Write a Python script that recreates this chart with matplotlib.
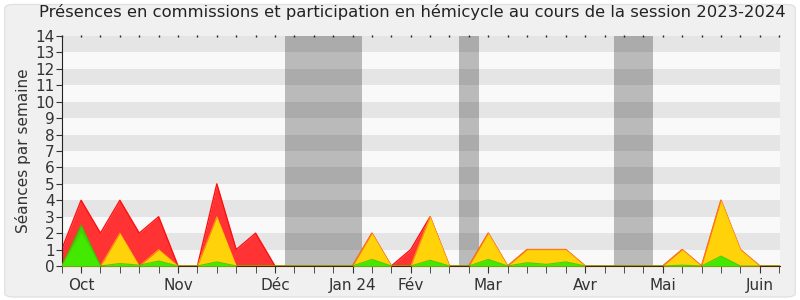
import matplotlib
matplotlib.use("Agg")
import matplotlib.pyplot as plt
from matplotlib.patches import FancyBboxPatch
import numpy as np

weeks = list(range(38))
hemicycle = [1,4,2,4,2,3,0,0,5,1,2,0,0,0,0,0,2,0,1,3,0,0,2,0,1,1,1,0,0,0,0,0,1,0,4,1,0,0]
commission = [0,2,0,2,0,1,0,0,3,0,0,0,0,0,0,0,2,0,0,3,0,0,2,0,1,1,1,0,0,0,0,0,1,0,4,1,0,0]
participation = [0,2.5,0,0.15,0.05,0.3,0,0,0.25,0,0,0,0,0,0,0,0.4,0,0,0.35,0,0,0.4,0,0.2,0.1,0.25,0,0,0,0,0,0.05,0,0.6,0,0,0]
vacations = [(11.5, 15.5), (20.5, 21.5), (28.5, 30.5)]
month_pos = [1, 6, 11, 15, 18, 22, 27, 31, 36]
month_labels = ["Oct", "Nov", "Déc", "Jan 24", "Fév", "Mar", "Avr", "Mai", "Juin"]
ymax = 14

fig = plt.figure(figsize=(8, 3), dpi=100, facecolor="white")
bg = FancyBboxPatch((0.006, 0.01), 0.988, 0.975, boxstyle="round,pad=0,rounding_size=0.012",
                    transform=fig.transFigure, facecolor="#F0F0F0", edgecolor="#E2E2E2",
                    linewidth=1, zorder=-10)
fig.patches.append(bg)

ax = fig.add_axes([61.7/800, 34/300, (779.5-61.7)/800, 230/300])
ax.set_facecolor("#F9F9F9")
for k in range(ymax):
    if k % 2 == 1:
        ax.axhspan(k, k+1, color="#E5E5E5", lw=0, zorder=0)
for a, b in vacations:
    ax.axvspan(a, b, color="black", alpha=0.25, lw=0, zorder=1)

x = np.array(weeks)
ax.fill_between(x, 0, hemicycle, color="#FF3333", lw=0, zorder=2)
ax.plot(x, hemicycle, color="#FF1010", lw=1.0, zorder=2.1)
ax.fill_between(x, 0, commission, color="#FFD20A", lw=0, zorder=3)
ax.plot(x, commission, color="#FFC800", lw=0.8, alpha=0.6, zorder=3.1)
ax.fill_between(x, 0, participation, color="#22EE00", alpha=0.85, lw=0, zorder=4)
ax.plot(x, participation, color="#22CC00", lw=0.8, alpha=0.8, zorder=4.1)

ax.set_xlim(0, 37.02)
ax.set_ylim(0, ymax)
ax.set_yticks(range(0, ymax+1))
ax.tick_params(axis="y", labelsize=11, length=4, colors="#333333", pad=1)
ax.set_xticks(month_pos)
ax.set_xticklabels(month_labels)
ax.set_xticks(weeks, minor=True)
ax.tick_params(axis="x", which="both", labelsize=11, length=5, colors="#333333",
               direction="out", top=False)
ax.secondary_xaxis("top").set_visible(False)
for w in weeks:
    ax.plot([w], [ymax], marker="|", markersize=2, color="#222222", clip_on=False,
            zorder=6, markeredgewidth=1)
for sp in ["top", "right"]:
    ax.spines[sp].set_visible(False)
ax.spines["left"].set_color("#222222")
ax.spines["bottom"].set_color("#552200")
ax.set_ylabel("Séances par semaine", fontsize=11, color="#333333", labelpad=3)
fig.text(412.5/800, 0.985, "Présences en commissions et participation en hémicycle au cours de la session 2023-2024",
         ha="center", va="top", fontsize=11.8, color="#222222")
fig.savefig("out.png", dpi=100, facecolor=fig.get_facecolor())
